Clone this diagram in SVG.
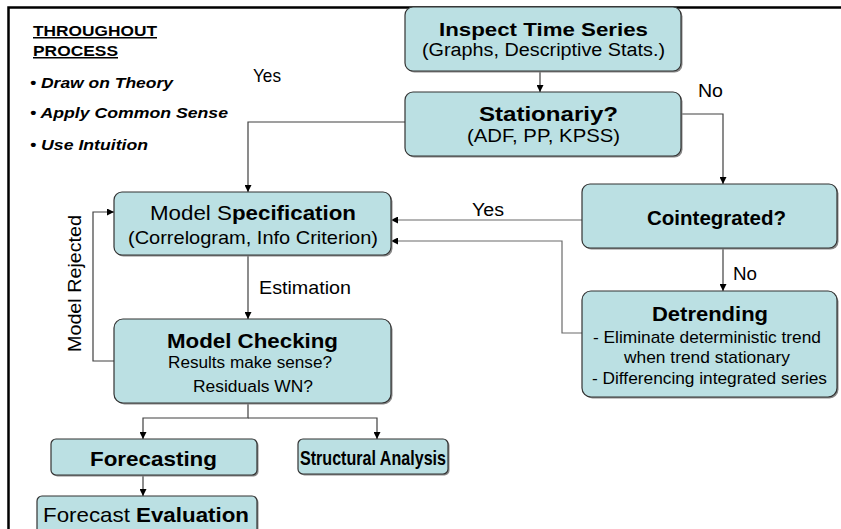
<svg xmlns="http://www.w3.org/2000/svg" width="841" height="529" viewBox="0 0 841 529">
<style>
text{font-family:"Liberation Sans",Arial,sans-serif;fill:#000;}
.b{font-weight:bold;}
.box{fill:#BBE0E3;stroke:#333;stroke-width:1.2;}
.sh{fill:#8a8a8a;}
.c{fill:none;stroke:#404040;stroke-width:1.2;}
.g{stroke:#6a6a6a;}
</style>
<defs>
<marker id="ah" markerWidth="7" markerHeight="7" refX="7" refY="3.5" orient="auto" markerUnits="userSpaceOnUse">
<path d="M0,0 L7,3.5 L0,7 z" fill="#000"/>
</marker>
</defs>
<rect width="841" height="529" fill="#fff"/>
<path d="M8.5,529 V7.5 H841" fill="none" stroke="#000" stroke-width="2.5"/>

<g id="notes">
<text x="33" y="36" class="b" font-size="15" text-decoration="underline" textLength="124" lengthAdjust="spacingAndGlyphs">THROUGHOUT</text>
<text x="33" y="56" class="b" font-size="15" text-decoration="underline" textLength="85" lengthAdjust="spacingAndGlyphs">PROCESS</text>
<text x="30" y="88" class="b" font-style="italic" font-size="15.5" textLength="143" lengthAdjust="spacingAndGlyphs">• Draw on Theory</text>
<text x="30" y="118" class="b" font-style="italic" font-size="15.5" textLength="198" lengthAdjust="spacingAndGlyphs">• Apply Common Sense</text>
<text x="30" y="150" class="b" font-style="italic" font-size="15.5" textLength="118" lengthAdjust="spacingAndGlyphs">• Use Intuition</text>
</g>

<g id="connectors">
<path class="c" d="M540,71 V92" marker-end="url(#ah)"/>
<path class="c" d="M405,122 H248 V192" marker-end="url(#ah)"/>
<path class="c" d="M681,114 H723 V184" marker-end="url(#ah)"/>
<path class="c g" d="M582,220 H391" marker-end="url(#ah)"/>
<path class="c g" d="M582,333 H562 V241 H391" marker-end="url(#ah)"/>
<path class="c" d="M723,248 V291" marker-end="url(#ah)"/>
<path class="c" d="M248,255 V319" marker-end="url(#ah)"/>
<path class="c" d="M114,361 H93 V212 H114" marker-end="url(#ah)"/>
<path class="c" d="M248,403 V418 H143 V439" marker-end="url(#ah)"/>
<path class="c" d="M248,418 H377 V439" marker-end="url(#ah)"/>
<path class="c" d="M143,475 V496" marker-end="url(#ah)"/>
<text x="253" y="82" font-size="19" textLength="28" lengthAdjust="spacingAndGlyphs">Yes</text>
<text x="698" y="97" font-size="19" textLength="25" lengthAdjust="spacingAndGlyphs">No</text>
<text x="472" y="216" font-size="18" textLength="32" lengthAdjust="spacingAndGlyphs">Yes</text>
<text x="733" y="280" font-size="18" textLength="24" lengthAdjust="spacingAndGlyphs">No</text>
<text x="259" y="294" font-size="19" textLength="92" lengthAdjust="spacingAndGlyphs">Estimation</text>
<text transform="translate(81,352) rotate(-90)" x="0" y="0" font-size="19" textLength="137" lengthAdjust="spacingAndGlyphs">Model Rejected</text>
</g>

<g id="inspect">
<rect class="sh" x="406.5" y="8.5" width="276" height="64" rx="8"/>
<rect class="box" x="405" y="7" width="276" height="64" rx="8"/>
<text x="439" y="36" class="b" font-size="19" textLength="209" lengthAdjust="spacingAndGlyphs">Inspect Time Series</text>
<text x="422" y="56" font-size="18" textLength="243" lengthAdjust="spacingAndGlyphs">(Graphs, Descriptive Stats.)</text>
</g>

<g id="stationarity">
<rect class="sh" x="406.5" y="93.5" width="276" height="64" rx="8"/>
<rect class="box" x="405" y="92" width="276" height="64" rx="8"/>
<text x="479" y="121" class="b" font-size="20" textLength="139" lengthAdjust="spacingAndGlyphs">Stationariy?</text>
<text x="467" y="142" font-size="18" textLength="153" lengthAdjust="spacingAndGlyphs">(ADF, PP, KPSS)</text>
</g>

<g id="specification">
<rect class="sh" x="115.5" y="193.5" width="277" height="63" rx="8"/>
<rect class="box" x="114" y="192" width="277" height="63" rx="8"/>
<text x="150" y="220" font-size="20" textLength="206" lengthAdjust="spacingAndGlyphs">Model S<tspan class="b">pecification</tspan></text>
<text x="128" y="244" font-size="19" textLength="250" lengthAdjust="spacingAndGlyphs">(Correlogram, Info Criterion)</text>
</g>

<g id="cointegrated">
<rect class="sh" x="583.5" y="185.5" width="255" height="64" rx="8"/>
<rect class="box" x="582" y="184" width="255" height="64" rx="8"/>
<text x="647" y="225" class="b" font-size="20" textLength="139" lengthAdjust="spacingAndGlyphs">Cointegrated?</text>
</g>

<g id="detrending">
<rect class="sh" x="583.5" y="292.5" width="255" height="106" rx="9"/>
<rect class="box" x="582" y="291" width="255" height="106" rx="9"/>
<text x="652" y="321" class="b" font-size="20" textLength="116" lengthAdjust="spacingAndGlyphs">Detrending</text>
<text x="593" y="343" font-size="17" textLength="228" lengthAdjust="spacingAndGlyphs">- Eliminate deterministic trend</text>
<text x="624" y="363" font-size="17" textLength="166" lengthAdjust="spacingAndGlyphs">when trend stationary</text>
<text x="592" y="384" font-size="17" textLength="235" lengthAdjust="spacingAndGlyphs">- Differencing integrated series</text>
</g>

<g id="checking">
<rect class="sh" x="115.5" y="320.5" width="277" height="84" rx="9"/>
<rect class="box" x="114" y="319" width="277" height="84" rx="9"/>
<text x="167" y="348" class="b" font-size="20" textLength="171" lengthAdjust="spacingAndGlyphs">Model Checking</text>
<text x="168" y="368" font-size="16" textLength="164" lengthAdjust="spacingAndGlyphs">Results make sense?</text>
<text x="193" y="392" font-size="16" textLength="120" lengthAdjust="spacingAndGlyphs">Residuals WN?</text>
</g>

<g id="forecasting">
<rect class="sh" x="52.5" y="440.5" width="206" height="36" rx="5"/>
<rect class="box" x="51" y="439" width="206" height="36" rx="5"/>
<text x="90" y="466" class="b" font-size="21" textLength="127" lengthAdjust="spacingAndGlyphs">Forecasting</text>
</g>

<g id="structural">
<rect class="sh" x="299.5" y="440.5" width="150" height="35" rx="5"/>
<rect class="box" x="298" y="439" width="150" height="35" rx="5"/>
<text x="300" y="465" class="b" font-size="21" textLength="146" lengthAdjust="spacingAndGlyphs">Structural Analysis</text>
</g>

<g id="evaluation">
<rect class="sh" x="38.5" y="497.5" width="220" height="45" rx="5"/>
<rect class="box" x="37" y="496" width="220" height="45" rx="5"/>
<text x="43" y="522" font-size="21" textLength="206" lengthAdjust="spacingAndGlyphs">Forecast <tspan class="b">Evaluation</tspan></text>
</g>
</svg>
